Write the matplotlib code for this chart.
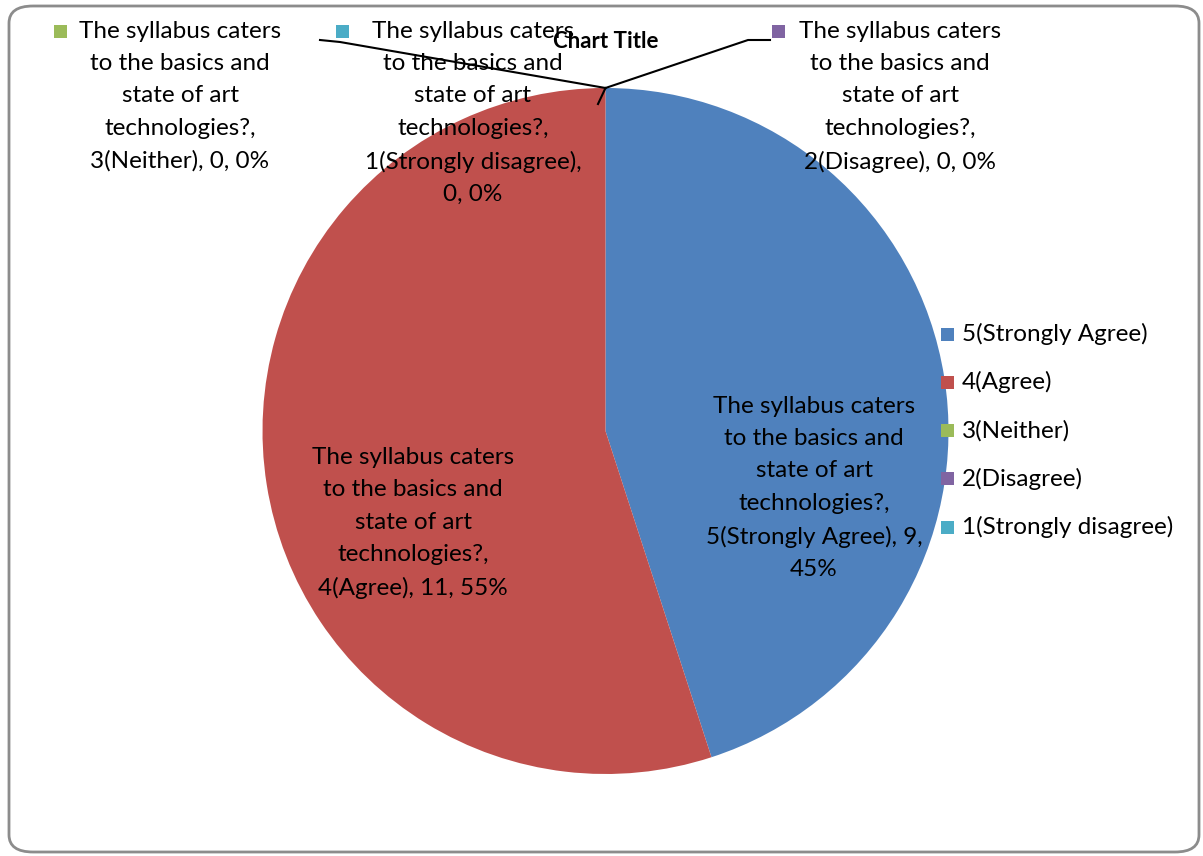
import matplotlib
matplotlib.use("Agg")
import matplotlib.pyplot as plt
from matplotlib.patches import FancyBboxPatch, Rectangle
from matplotlib.lines import Line2D
import textwrap

question = "The syllabus caters\nto the basics and\nstate of art\ntechnologies?"
categories = ["5(Strongly Agree)", "4(Agree)", "3(Neither)", "2(Disagree)", "1(Strongly disagree)"]
counts = [9, 11, 0, 0, 0]
colors = ["#4F81BD", "#C0504D", "#9BBB59", "#8064A2", "#4BACC6"]
title = "Chart Title"

W, H = 1203, 856
FONT = ["Lato", "DejaVu Sans"]
FS = 17.5

fig = plt.figure(figsize=(W / 100, H / 100), dpi=100)

def fx(px):
    return px / W

def fy(py):
    return 1 - py / H

# border
border = FancyBboxPatch((fx(9), fy(852)), fx(1199) - fx(9), fy(6) - fy(852),
                        boxstyle="round,pad=0,rounding_size=0.02",
                        transform=fig.transFigure, facecolor="none",
                        edgecolor="#8c8c8c", linewidth=2, zorder=0)
fig.patches.append(border)

# pie axes: center (605.5, 431), radius 343 px
cx, cy, r = 605.5, 431, 343
ax = fig.add_axes([fx(cx - r), fy(cy + r), 2 * r / W, 2 * r / H])
ax.axis("off")
wedges, _ = ax.pie(counts, colors=colors, startangle=90, counterclock=False,
                   radius=1, wedgeprops=dict(linewidth=0))
ax.set_aspect("auto")
ax.set_xlim(-1, 1)
ax.set_ylim(-1, 1)

total = sum(counts)

def label_text(i):
    pct = round(100 * counts[i] / total)
    tail = "\n".join(textwrap.wrap(f"{categories[i]}, {counts[i]}, {pct}%", 21))
    return f"{question},\n{tail}"

# inside labels
ls = 1.66
fig.text(fx(814), fy(488), label_text(0), ha="center", va="center",
         fontsize=FS, family=FONT, linespacing=ls)
fig.text(fx(413), fy(523), label_text(1), ha="center", va="center",
         fontsize=FS, family=FONT, linespacing=ls)

# zero-value labels with legend keys
outside = [(2, 180, 21, 60), (4, 473, 21, 342), (3, 900, 21, 778)]
for i, x, ytop, keyx in outside:
    fig.text(fx(x), fy(ytop), label_text(i), ha="center", va="top",
             fontsize=FS, family=FONT, linespacing=ls)
    fig.patches.append(Rectangle((fx(keyx - 6.5), fy(38)), 13 / W, 13 / H,
                                 transform=fig.transFigure, facecolor=colors[i],
                                 edgecolor="none"))

# leader lines from pie top
top = (cx, cy - r)
leaders = [[(320, 40), (340, 42), top],
           [top, (598, 104)],
           [top, (748, 40), (770, 40)]]
for pts in leaders:
    fig.add_artist(Line2D([fx(p[0]) for p in pts], [fy(p[1]) for p in pts],
                          transform=fig.transFigure, color="black", linewidth=1.5))

# title
fig.text(fx(606), fy(42), title, ha="center", va="center", fontsize=16,
         family=FONT, fontweight="bold")

# legend
for k, (cat, col) in enumerate(zip(categories, colors)):
    y = 334 + 48.3 * k
    fig.patches.append(Rectangle((fx(940.5), fy(y + 6.5)), 13 / W, 13 / H,
                                 transform=fig.transFigure, facecolor=col,
                                 edgecolor="none"))
    fig.text(fx(962), fy(y), cat, ha="left", va="center", fontsize=FS, family=FONT)

fig.savefig("out.png", dpi=100)
